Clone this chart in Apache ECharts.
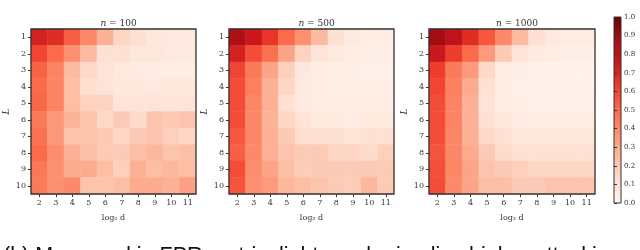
<!DOCTYPE html>
<html><head><meta charset="utf-8">
<script src="https://cdn.jsdelivr.net/npm/echarts@6/dist/echarts.min.js"></script>
<style>html,body{margin:0;padding:0;background:#fff}#c{width:640px;height:250px}</style>
</head><body><div id="c"></div>
<script>
var xCats = ['2','3','4','5','6','7','8','9','10','11'];
var yCats = ['1','2','3','4','5','6','7','8','9','10'];
var titles = ['100','500','1000'];
var cbTicks = [0,0.1,0.2,0.3,0.4,0.5,0.6,0.7,0.8,0.9,1.0];
// rows: L = 1..10, columns: log2 d = 2..11
var n100 = [
 [0.72,0.68,0.53,0.40,0.28,0.16,0.13,0.08,0.07,0.07],
 [0.60,0.50,0.38,0.25,0.12,0.12,0.09,0.09,0.07,0.07],
 [0.52,0.42,0.25,0.15,0.10,0.07,0.06,0.06,0.05,0.05],
 [0.50,0.42,0.24,0.13,0.10,0.08,0.08,0.07,0.08,0.08],
 [0.51,0.42,0.24,0.17,0.17,0.10,0.10,0.10,0.10,0.10],
 [0.45,0.36,0.27,0.22,0.15,0.20,0.14,0.22,0.20,0.22],
 [0.48,0.36,0.22,0.22,0.20,0.16,0.20,0.22,0.18,0.16],
 [0.50,0.39,0.28,0.24,0.20,0.20,0.24,0.26,0.22,0.24],
 [0.46,0.38,0.30,0.30,0.24,0.18,0.28,0.24,0.26,0.24],
 [0.45,0.38,0.40,0.22,0.22,0.24,0.30,0.30,0.28,0.33]
];
var n500 = [
 [0.85,0.75,0.65,0.50,0.38,0.25,0.12,0.07,0.05,0.05],
 [0.72,0.58,0.48,0.32,0.17,0.10,0.07,0.05,0.04,0.04],
 [0.60,0.45,0.32,0.18,0.08,0.05,0.04,0.04,0.03,0.03],
 [0.58,0.43,0.28,0.16,0.07,0.05,0.04,0.04,0.04,0.04],
 [0.58,0.41,0.28,0.12,0.07,0.05,0.05,0.05,0.05,0.06],
 [0.58,0.41,0.27,0.16,0.11,0.07,0.07,0.06,0.07,0.07],
 [0.55,0.41,0.28,0.20,0.13,0.12,0.12,0.10,0.12,0.12],
 [0.53,0.40,0.28,0.22,0.20,0.20,0.16,0.16,0.14,0.18],
 [0.58,0.39,0.32,0.24,0.19,0.20,0.20,0.20,0.20,0.20],
 [0.56,0.38,0.35,0.26,0.24,0.22,0.20,0.19,0.26,0.20]
];
var n1000 = [
 [0.88,0.80,0.68,0.55,0.40,0.25,0.12,0.07,0.06,0.06],
 [0.75,0.62,0.50,0.35,0.20,0.10,0.07,0.05,0.04,0.04],
 [0.62,0.45,0.35,0.15,0.06,0.04,0.03,0.02,0.02,0.02],
 [0.60,0.43,0.30,0.12,0.05,0.03,0.03,0.02,0.02,0.02],
 [0.58,0.42,0.28,0.10,0.05,0.04,0.03,0.03,0.03,0.03],
 [0.58,0.42,0.28,0.12,0.08,0.06,0.05,0.05,0.05,0.05],
 [0.58,0.41,0.28,0.15,0.12,0.08,0.08,0.08,0.08,0.08],
 [0.56,0.41,0.30,0.20,0.14,0.12,0.12,0.12,0.12,0.12],
 [0.57,0.41,0.32,0.22,0.20,0.18,0.16,0.16,0.16,0.16],
 [0.58,0.40,0.32,0.24,0.24,0.20,0.20,0.22,0.22,0.22]
];
var panels = [n100, n500, n1000];

var reds = ['#fff5f0','#fee0d2','#fcbba1','#fc9272','#fb6a4a','#ef3b2c','#cb181d','#a50f15','#67000d'];
var serif = '"DejaVu Serif", "Liberation Serif", serif';
var gridPos = [{left:31,width:165},{left:229,width:165},{left:429,width:166}];

function toData(m){var d=[];for(var r=0;r<m.length;r++)for(var c=0;c<m[r].length;c++)d.push([c,r,m[r][c]]);return d;}

var grids=[],xAxes=[],yAxes=[],series=[],titleArr=[];
for (var i=0;i<3;i++){
  grids.push({left:gridPos[i].left,width:gridPos[i].width,top:29,height:165,show:true,z:10,borderColor:'#333',borderWidth:1.3,backgroundColor:'transparent'});
  xAxes.push({type:'category',gridIndex:i,data:xCats,name:'log\u2082 d',nameLocation:'middle',nameGap:20,
    nameTextStyle:{fontFamily:serif,fontSize:8,color:'#333'},
    axisLine:{show:false},axisTick:{show:true,alignWithLabel:true,length:3,lineStyle:{color:'#333'}},
    axisLabel:{fontFamily:serif,fontSize:8,color:'#333',margin:5},splitLine:{show:false}});
  yAxes.push({type:'category',gridIndex:i,data:yCats,inverse:true,name:'L',nameLocation:'middle',nameGap:20,nameRotate:90,
    nameTextStyle:{fontFamily:serif,fontSize:9,fontStyle:'italic',color:'#333'},
    axisLine:{show:false},axisTick:{show:true,alignWithLabel:true,length:3,lineStyle:{color:'#333'}},
    axisLabel:{fontFamily:serif,fontSize:8,color:'#333',margin:5},splitLine:{show:false}});
  series.push({type:'heatmap',xAxisIndex:i,yAxisIndex:i,data:toData(panels[i]),itemStyle:{borderWidth:0},emphasis:{disabled:true}});
  titleArr.push({text:'{i|n} = '+titles[i],left:gridPos[i].left+gridPos[i].width/2,top:14,textAlign:'center',
    textStyle:{fontFamily:serif,fontSize:9,fontWeight:'normal',color:'#333',rich:{i:{fontFamily:serif,fontSize:9,fontStyle:'italic',color:'#333'}}}});
}
// colorbar
grids.push({left:614,width:7,top:17,height:186,show:true,borderColor:'#333',borderWidth:1,
  backgroundColor:{type:'linear',x:0,y:1,x2:0,y2:0,colorStops:reds.map(function(c,k){return {offset:k/(reds.length-1),color:c};})}});
xAxes.push({type:'value',gridIndex:3,show:false,min:0,max:1});
yAxes.push({type:'value',gridIndex:3,min:0,max:1,interval:0.1,position:'right',
  axisLine:{show:false},axisTick:{show:true,length:3,lineStyle:{color:'#333'}},splitLine:{show:false},
  axisLabel:{fontFamily:serif,fontSize:7,color:'#333',margin:3,formatter:function(v){return cbTicks.indexOf(Math.round(v*10)/10)>=0?v.toFixed(1):'';}}});

var chart = echarts.init(document.getElementById('c'),null,{renderer:'canvas'});
chart.setOption({
  animation:false,
  backgroundColor:'#fff',
  title:titleArr,
  grid:grids,xAxis:xAxes,yAxis:yAxes,
  visualMap:{type:'continuous',show:false,min:0,max:1,seriesIndex:[0,1,2],inRange:{color:reds}},
  series:series,
  graphic:[{type:'text',left:3,top:245,style:{text:'(b) Measured in FPR metric, lighter color implies higher attacking p',
    fontFamily:'"Liberation Sans", Arial, sans-serif',fontSize:21.5,fill:'#111'}}]
});
</script></body></html>
